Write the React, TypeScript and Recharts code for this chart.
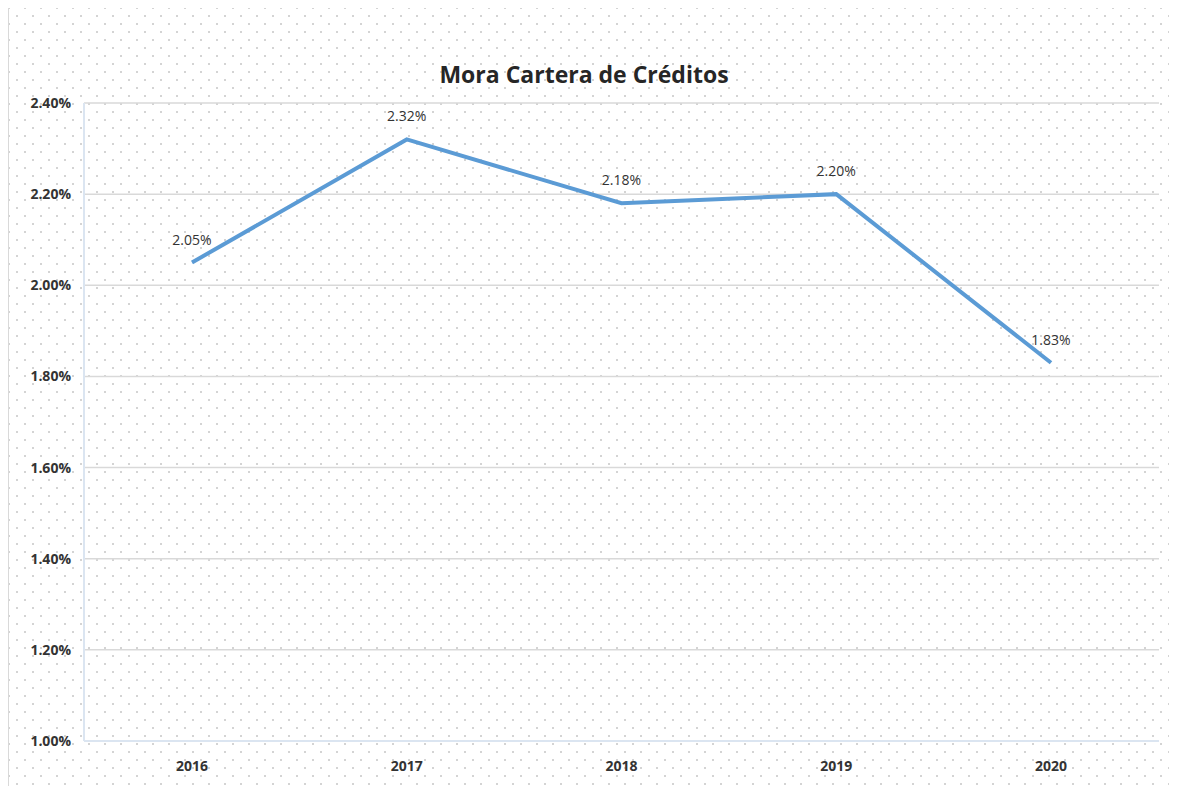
import React from 'react';
import { LineChart, Line, XAxis, YAxis, CartesianGrid, LabelList } from 'recharts';

// Mora de cartera por año
const years = ['2016', '2017', '2018', '2019', '2020'];
const moraValues = [2.05, 2.32, 2.18, 2.2, 1.83];
const yTicks = [1.0, 1.2, 1.4, 1.6, 1.8, 2.0, 2.2, 2.4];

const data = years.map((year, i) => ({ year, mora: moraValues[i] }));

const fmt = (v: number) => `${v.toFixed(2)}%`;

const App: React.FC = () => {
  return (
    <div
      style={{
        position: 'relative',
        width: 1165,
        height: 778,
        border: '1px solid #d9d9d9',
        borderRight: 'none',
        borderBottom: 'none',
        marginTop: -1,
        backgroundColor: '#ffffff',
        backgroundImage:
          'radial-gradient(circle, #d4d4d4 0.9px, transparent 1.3px), radial-gradient(circle, #d4d4d4 0.9px, transparent 1.3px)',
        backgroundSize: '16px 16px, 16px 16px',
        backgroundPosition: '0 0, 8px 8px',
        fontFamily: '"Open Sans", "Liberation Sans", sans-serif',
      }}
    >
      <div
        style={{
          position: 'absolute',
          top: 50,
          left: 0,
          width: 1150,
          textAlign: 'center',
          fontSize: 23,
          fontWeight: 700,
          color: '#262626',
        }}
      >
        Mora Cartera de Créditos
      </div>
      <LineChart
        width={1165}
        height={778}
        data={data}
        margin={{ top: 95, right: 15, bottom: 10, left: 14 }}
      >
        <CartesianGrid vertical={false} stroke="#d9d9d9" strokeWidth={1.5} />
        <XAxis
          dataKey="year"
          padding={{ left: 108, right: 108 }}
          axisLine={{ stroke: '#dbe5f1', strokeWidth: 2 }}
          tickLine={false}
          tickMargin={14}
          height={35}
          tick={{ fontSize: 14, fontWeight: 700, fill: '#333333' }}
        />
        <YAxis
          domain={[1.0, 2.4]}
          ticks={yTicks}
          tickFormatter={fmt}
          interval={0}
          axisLine={{ stroke: '#dbe5f1', strokeWidth: 2 }}
          tickLine={false}
          tickSize={0}
          tickMargin={13}
          width={61}
          tick={{ fontSize: 14, fontWeight: 700, fill: '#333333' }}
        />
        <YAxis
          yAxisId="right"
          orientation="right"
          domain={[1.0, 2.4]}
          tick={false}
          tickLine={false}
          axisLine={{ stroke: '#dbe5f1', strokeWidth: 2 }}
          width={0}
        />
        <Line
          type="linear"
          dataKey="mora"
          stroke="#5b9bd5"
          strokeWidth={4}
          dot={false}
          activeDot={false}
          isAnimationActive={false}
        >
          <LabelList
            dataKey="mora"
            position="top"
            offset={18}
            formatter={(v: any) => fmt(Number(v))}
            style={{ fontSize: 14, fill: '#333333' }}
          />
        </Line>
      </LineChart>
    </div>
  );
};

export default App;
